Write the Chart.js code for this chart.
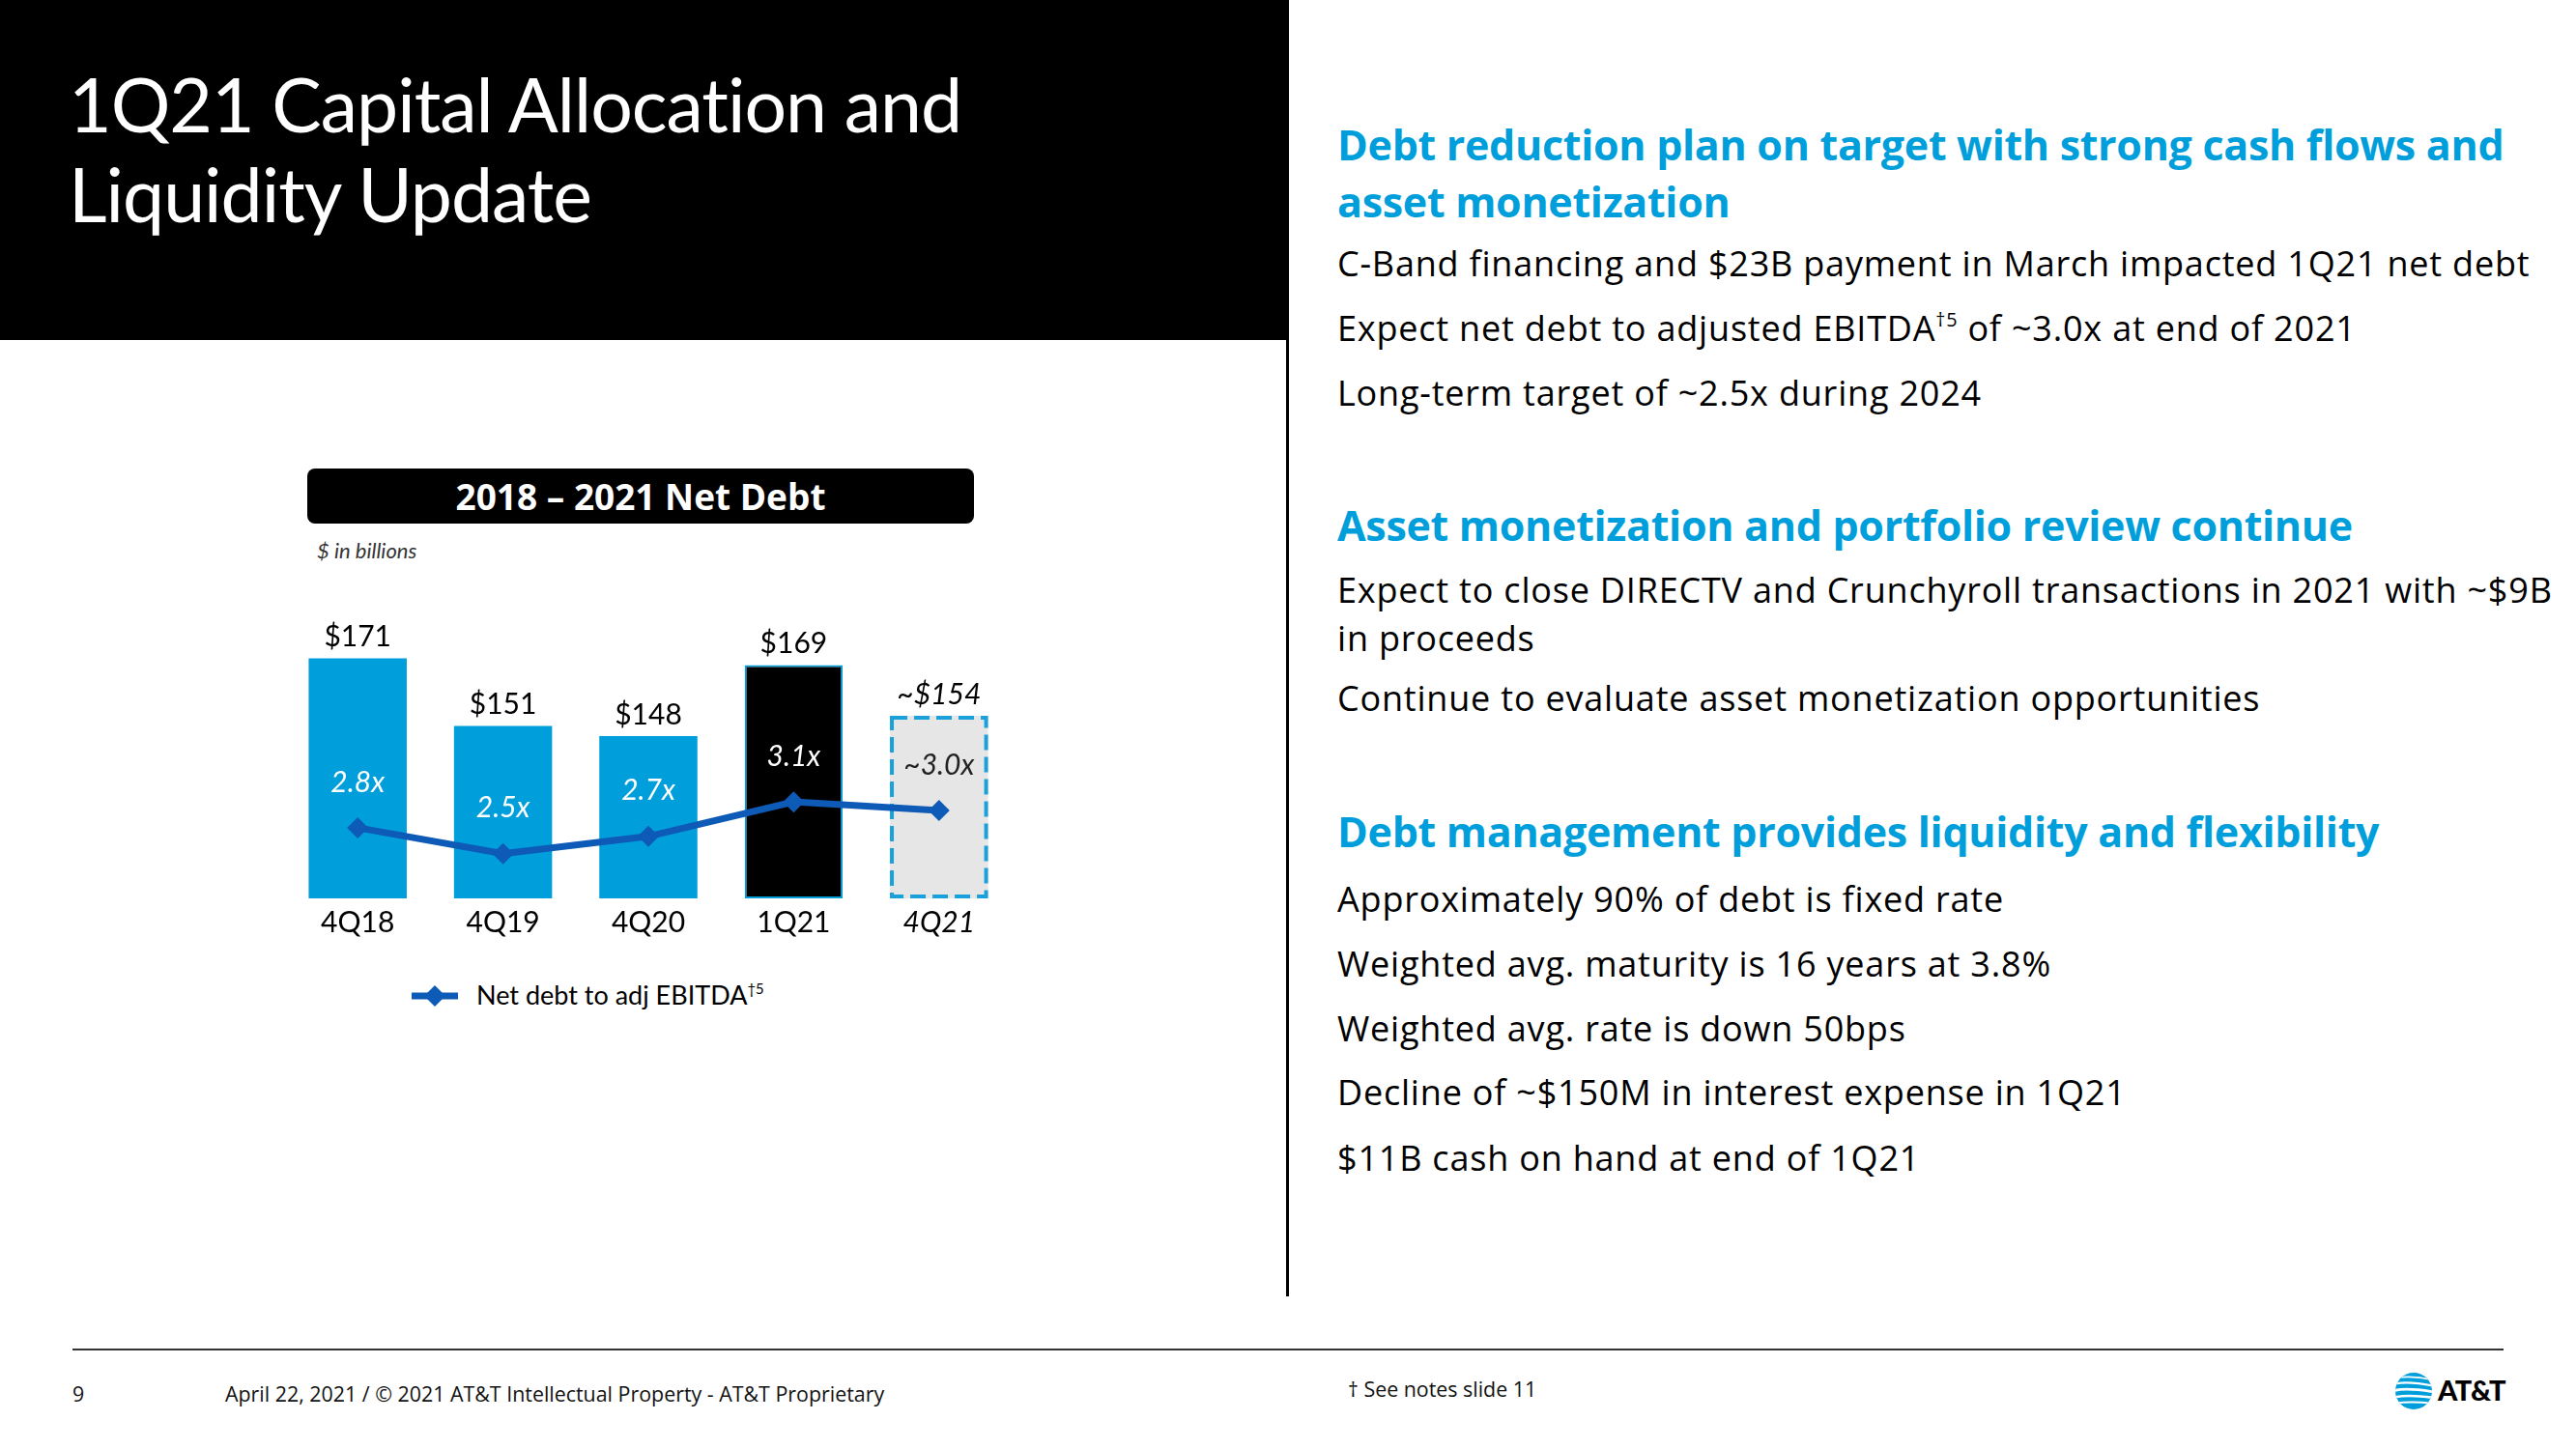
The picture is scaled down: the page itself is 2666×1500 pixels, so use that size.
<!DOCTYPE html>
<html>
<head>
<meta charset="utf-8">
<script src="https://cdn.jsdelivr.net/npm/chart.js@4.4.1/dist/chart.umd.min.js"></script>
<style>
  html, body { margin: 0; padding: 0; background: #fff; }
  body { width: 2666px; height: 1500px; position: relative; overflow: hidden; font-family: "Open Sans", Lato, sans-serif; color: #000; }
  .abs { position: absolute; white-space: nowrap; }
  #titleBox { left: 0; top: 0; width: 1332px; height: 352px; background: #000; }
  #title { left: 71px; top: 61px; color: #fff; font-family: Lato; font-size: 77px; font-weight: 400; line-height: 93px; letter-spacing: -1px; }
  #divider { left: 1331px; top: 0; width: 3px; height: 1342px; background: #000; }
  .head { left: 1384px; color: #009fdb; font-size: 43px; font-weight: 700; line-height: 59px; letter-spacing: -0.3px; }
  .body { left: 1384px; font-size: 36px; line-height: 50px; letter-spacing: 0.8px; }
  sup { font-size: 0.55em; line-height: 0; vertical-align: 0.75em; }
  #chartHead { left: 318px; top: 485px; width: 690px; height: 57px; background: #000; border-radius: 8px;
               color: #fff; font-size: 37px; font-weight: 700; line-height: 57px; text-align: center; }
  #units { left: 328px; top: 556px; font-family: Lato; font-size: 22px; font-style: italic; color: #333; line-height: 28px; }
  #chartWrap { left: 295px; top: 600px; width: 752px; height: 390px; }
  #legend { left: 426px; top: 1014px; font-family: Lato; font-size: 27px; line-height: 32px; }
  #legend svg { vertical-align: middle; margin-right: 19px; position: relative; top: -2px; }
  #rule { left: 75px; top: 1396px; width: 2516px; height: 2px; background: #333; }
  .foot { font-size: 21.4px; line-height: 28px; top: 1429px; color: #111; }
  #logoText { left: 2523px; top: 1422px; font-family: Lato; font-size: 29px; font-weight: 900; line-height: 34px; letter-spacing: -0.5px; }
</style>
</head>
<body>
<div class="abs" id="titleBox"></div>
<div class="abs" id="title">1Q21 Capital Allocation and<br>Liquidity Update</div>
<div class="abs" id="divider"></div>

<div class="abs head" style="top:120px">Debt reduction plan on target with strong cash flows and<br>asset monetization</div>
<div class="abs body" style="top:248px">C-Band financing and $23B payment in March impacted 1Q21 net debt</div>
<div class="abs body" style="top:315px">Expect net debt to adjusted EBITDA<sup>†5</sup> of ~3.0x at end of 2021</div>
<div class="abs body" style="top:382px">Long-term target of ~2.5x during 2024</div>

<div class="abs head" style="top:514px">Asset monetization and portfolio review continue</div>
<div class="abs body" style="top:586px">Expect to close DIRECTV and Crunchyroll transactions in 2021 with ~$9B<br>in proceeds</div>
<div class="abs body" style="top:698px">Continue to evaluate asset monetization opportunities</div>

<div class="abs head" style="top:831px">Debt management provides liquidity and flexibility</div>
<div class="abs body" style="top:906px">Approximately 90% of debt is fixed rate</div>
<div class="abs body" style="top:973px">Weighted avg. maturity is 16 years at 3.8%</div>
<div class="abs body" style="top:1040px">Weighted avg. rate is down 50bps</div>
<div class="abs body" style="top:1106px">Decline of ~$150M in interest expense in 1Q21</div>
<div class="abs body" style="top:1174px">$11B cash on hand at end of 1Q21</div>

<div class="abs" id="chartHead">2018 – 2021 Net Debt</div>
<div class="abs" id="units">$ in billions</div>
<div class="abs" id="chartWrap"><canvas id="debtChart" width="752" height="390"></canvas></div>
<div class="abs" id="legend"><svg width="48" height="24"><line x1="0" y1="12" x2="48" y2="12" stroke="#0d5ab7" stroke-width="7"/><polygon points="24,1 35,12 24,23 13,12" fill="#0d5ab7"/></svg>Net debt to adj EBITDA<sup>†5</sup></div>

<div class="abs" id="rule"></div>
<div class="abs foot" style="left:75px">9</div>
<div class="abs foot" style="left:233px">April 22, 2021 / © 2021 AT&amp;T Intellectual Property - AT&amp;T Proprietary</div>
<div class="abs foot" style="left:1395px; top:1424px">† See notes slide 11</div>
<svg class="abs" style="left:2478px; top:1420px" width="40" height="40" viewBox="0 0 40 40">
  <defs><clipPath id="globe"><circle cx="20" cy="20" r="19"/></clipPath></defs>
  <circle cx="20" cy="20" r="19" fill="#009fdb"/>
  <g clip-path="url(#globe)" stroke="#fff" fill="none">
    <path d="M-2 7 Q18 3 42 9" stroke-width="1.6"/>
    <path d="M-2 13 Q14 9 42 15" stroke-width="2.2"/>
    <path d="M-2 20 Q10 16 42 21" stroke-width="2.8"/>
    <path d="M-2 27 Q12 23 42 27" stroke-width="2.6"/>
    <path d="M-2 33 Q16 30 42 33" stroke-width="2"/>
  </g>
</svg>
<div class="abs" id="logoText">AT&amp;T</div>

<script>
// values
var quarters = ['4Q18', '4Q19', '4Q20', '1Q21', '4Q21'];
var netDebt = [171, 151, 148, 169, 154];
var netDebtLabels = ['$171', '$151', '$148', '$169', '~$154'];
var leverage = [2.8, 2.5, 2.7, 3.1, 3.0];
var leverageLabels = ['2.8x', '2.5x', '2.7x', '3.1x', '~3.0x'];

var blue = '#009fdb';
var lineBlue = '#0d5ab7';

// value labels, ratio labels and the dashed outline of the forecast bar
var slideLabels = {
    id: 'slideLabels',
    afterDatasetDraw: function (chart, args) {
        if (args.index !== 0) return;
        var ctx = chart.ctx;
        var bars = chart.getDatasetMeta(0).data;
        var bottom = chart.chartArea.bottom;
        ctx.save();
        var f = bars[4];
        ctx.setLineDash([16, 7]);
        ctx.lineWidth = 4;
        ctx.strokeStyle = '#1aa0db';
        ctx.strokeRect(f.x - f.width / 2 + 2, f.y + 2, f.width - 4, Math.min(f.base, bottom) - f.y - 4);
        ctx.setLineDash([]);
        ctx.textAlign = 'center';
        ctx.textBaseline = 'middle';
        ctx.fillStyle = '#000';
        bars.forEach(function (b, i) {
            ctx.font = (i === 4 ? 'italic ' : '') + '30px Lato';
            ctx.fillText(netDebtLabels[i], b.x, b.y - 22);
        });
        ctx.restore();
    },
    afterDatasetsDraw: function (chart) {
        var ctx = chart.ctx;
        var pts = chart.getDatasetMeta(1).data;
        ctx.save();
        ctx.textAlign = 'center';
        ctx.textBaseline = 'middle';
        ctx.font = 'italic 30px Lato';
        pts.forEach(function (p, i) {
            ctx.fillStyle = i === 4 ? '#222' : '#fff';
            ctx.fillText(leverageLabels[i], p.x, p.y - 47);
        });
        ctx.restore();
    }
};

new Chart(document.getElementById('debtChart'), {
    data: {
        labels: quarters,
        datasets: [{
            type: 'bar',
            data: netDebt,
            yAxisID: 'y',
            base: 100,
            order: 1,
            backgroundColor: [blue, blue, blue, '#000', '#e6e6e6'],
            borderColor: blue,
            borderWidth: [0, 0, 0, 2, 0],
            borderSkipped: false,
            categoryPercentage: 1,
            barPercentage: 0.675
        }, {
            type: 'line',
            label: 'Net debt to adj EBITDA',
            data: leverage,
            yAxisID: 'y2',
            order: 0,
            borderColor: lineBlue,
            backgroundColor: lineBlue,
            borderWidth: 7,
            pointStyle: 'rectRot',
            pointRadius: 11,
            pointBorderWidth: 0,
            tension: 0
        }]
    },
    options: {
        responsive: false,
        animation: false,
        devicePixelRatio: 1,
        layout: { autoPadding: false, padding: { top: 50, left: 0, right: 0, bottom: 0 } },
        plugins: { legend: false, tooltip: { enabled: false } },
        scales: {
            x: {
                grid: { display: false, drawTicks: false },
                border: { display: false },
                ticks: {
                    padding: 7,
                    color: '#000',
                    font: function (c) {
                        return { family: 'Lato', size: 30, style: c.index === 4 ? 'italic' : 'normal' };
                    }
                },
                afterFit: function (scale) { scale.height = 60; }
            },
            y: { display: false, min: 100, max: 180 },
            y2: { display: false, min: 1.98, max: 5.12 }
        }
    },
    plugins: [slideLabels]
});
</script>
</body>
</html>
